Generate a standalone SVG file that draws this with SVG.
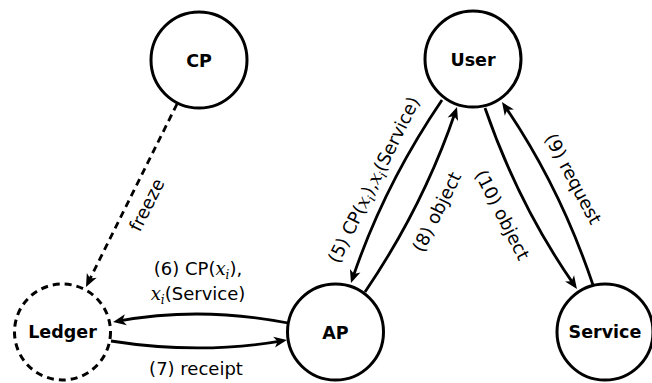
<svg xmlns="http://www.w3.org/2000/svg" width="652" height="383" viewBox="0 0 652 383">
<style>
.node{fill:#fff;stroke:#000;stroke-width:3}
.dash{stroke-dasharray:7 5}
.nl{font-family:"DejaVu Sans",sans-serif;font-weight:bold;font-size:17.5px;text-anchor:middle;fill:#000}
.edge{fill:none;stroke:#000;stroke-width:2.8}
.el{font-family:"DejaVu Sans",sans-serif;font-size:18px;text-anchor:middle;fill:#000}
.m{font-family:"DejaVu Serif","Liberation Serif",serif;font-style:italic}
.s{font-size:12px}
</style>
<defs>
<marker id="arr" markerUnits="userSpaceOnUse" markerWidth="14" markerHeight="12" refX="8" refY="5.5" orient="auto" overflow="visible">
<path d="M0,0 L13,5.5 L0,11 L3.5,5.5 Z" fill="#000"/>
</marker>
</defs>
<g id="connectors">
<path id="e-freeze" class="edge dash" d="M177,104 L88.2,282.5" marker-end="url(#arr)"/>
<path id="e6" class="edge" d="M288,323 Q200,306 118,321.2" marker-end="url(#arr)"/>
<path id="e7" class="edge" d="M111,341 Q200,355 282,340.8" marker-end="url(#arr)"/>
<path id="e5" class="edge" d="M442,100 Q384,185.3 352.6,278.3" marker-end="url(#arr)"/>
<path id="e8" class="edge" d="M365,292 Q423.5,205.7 455.4,111.7" marker-end="url(#arr)"/>
<path id="e10" class="edge" d="M485,108 Q518.5,205 574.1,284.9" marker-end="url(#arr)"/>
<path id="e9" class="edge" d="M593,285 Q560,187 504.8,106.1" marker-end="url(#arr)"/>
<text class="el" transform="translate(147,205) rotate(-63.4)" x="0" y="6">freeze</text>
<text class="el" x="198" y="275">(6) CP(<tspan class="m">x</tspan><tspan class="m s" dy="4">i</tspan><tspan dy="-4">),</tspan></text>
<text class="el" x="198" y="300"><tspan class="m">x</tspan><tspan class="m s" dy="4">i</tspan><tspan dy="-4">(Service)</tspan></text>
<text class="el" x="196" y="375">(7) receipt</text>
<text class="el" transform="translate(374,180) rotate(-63.5)" x="0" y="6">(5) CP(<tspan class="m">x</tspan><tspan class="m s" dy="4">i</tspan><tspan dy="-4">),</tspan><tspan class="m">x</tspan><tspan class="m s" dy="4">i</tspan><tspan dy="-4">(Service)</tspan></text>
<text class="el" transform="translate(437,212) rotate(-63.5)" x="0" y="6">(8) object</text>
<text class="el" transform="translate(502,215) rotate(63)" x="0" y="6">(10) object</text>
<text class="el" transform="translate(573,179) rotate(62)" x="0" y="6">(9) request</text>
</g>
<g id="node-cp">
<circle class="node" cx="199" cy="60" r="48"/>
<text class="nl" x="199" y="66.5">CP</text>
</g>
<g id="node-user">
<circle class="node" cx="473" cy="59" r="48"/>
<text class="nl" x="473" y="65.5">User</text>
</g>
<g id="node-ledger">
<circle class="node dash" cx="62.5" cy="332" r="48"/>
<text class="nl" x="62.5" y="338">Ledger</text>
</g>
<g id="node-ap">
<circle class="node" cx="335.5" cy="332" r="48"/>
<text class="nl" x="335.5" y="338.5">AP</text>
</g>
<g id="node-service">
<circle class="node" cx="605" cy="332" r="48"/>
<text class="nl" x="605" y="338">Service</text>
</g>
</svg>
